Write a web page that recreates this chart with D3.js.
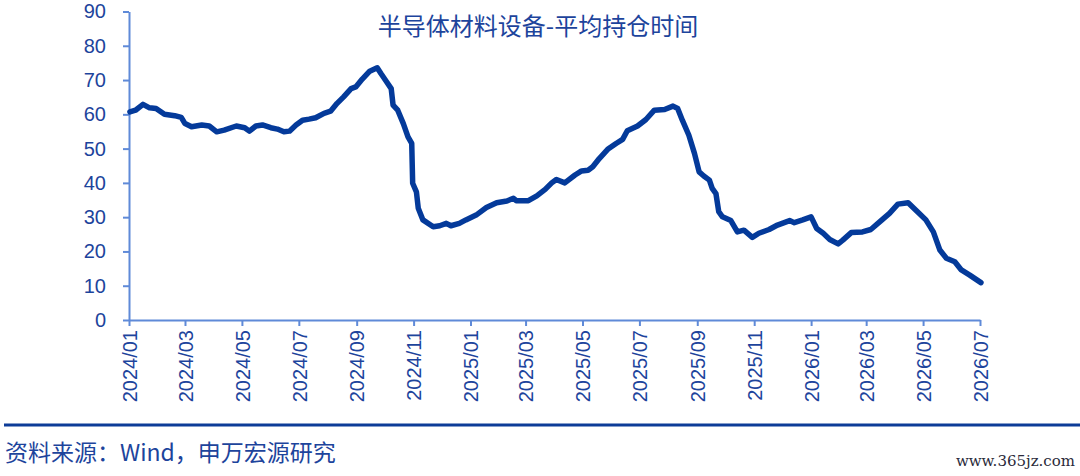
<!DOCTYPE html>
<html>
<head>
<meta charset="utf-8">
<script src="https://cdn.jsdelivr.net/npm/d3@7"></script>
<style>
  html, body { margin: 0; padding: 0; background: #fff; }
  svg { display: block; }
</style>
</head>
<body>
<svg width="1080" height="476"></svg>
<script>
const TITLE = '半导体材料设备-平均持仓时间'
const SOURCE = '资料来源：Wind，申万宏源研究'

const dates = [
  '2024-01-02', '2024-01-08', '2024-01-16', '2024-01-23', '2024-01-30', '2024-02-08', '2024-02-19', '2024-02-26',
  '2024-03-01', '2024-03-08', '2024-03-19', '2024-03-27', '2024-04-04', '2024-04-12', '2024-04-25', '2024-05-04',
  '2024-05-09', '2024-05-16', '2024-05-23', '2024-06-01', '2024-06-08', '2024-06-15', '2024-06-21', '2024-06-28',
  '2024-07-05', '2024-07-12', '2024-07-19', '2024-07-28', '2024-08-04', '2024-08-11', '2024-08-18', '2024-08-26',
  '2024-08-31', '2024-09-07', '2024-09-15', '2024-09-23', '2024-09-27', '2024-10-03', '2024-10-08', '2024-10-10',
  '2024-10-15', '2024-10-21', '2024-10-26', '2024-10-30', '2024-10-31', '2024-11-04', '2024-11-06', '2024-11-11',
  '2024-11-22', '2024-11-29', '2024-12-06', '2024-12-11', '2024-12-20', '2024-12-27', '2025-01-07', '2025-01-18',
  '2025-01-29', '2025-02-09', '2025-02-16', '2025-02-19', '2025-03-04', '2025-03-13', '2025-03-22', '2025-03-29',
  '2025-04-03', '2025-04-12', '2025-04-23', '2025-04-30', '2025-05-07', '2025-05-12', '2025-05-19', '2025-05-28',
  '2025-06-06', '2025-06-13', '2025-06-18', '2025-06-29', '2025-07-08', '2025-07-17', '2025-07-28', '2025-08-06',
  '2025-08-11', '2025-08-16', '2025-08-23', '2025-08-29', '2025-09-03', '2025-09-08', '2025-09-14', '2025-09-17',
  '2025-09-21', '2025-09-24', '2025-09-28', '2025-10-07', '2025-10-14', '2025-10-21', '2025-10-30', '2025-11-06',
  '2025-11-17', '2025-11-26', '2025-12-09', '2025-12-14', '2025-12-23', '2026-01-01', '2026-01-07', '2026-01-14',
  '2026-01-21', '2026-01-30', '2026-02-04', '2026-02-13', '2026-02-25', '2026-03-06', '2026-03-17', '2026-03-26',
  '2026-04-04', '2026-04-15', '2026-04-25', '2026-05-04', '2026-05-12', '2026-05-19', '2026-05-26', '2026-06-04',
  '2026-06-11', '2026-06-20', '2026-07-02',
]

const holdDays = [
  60.7, 61.2, 62.9, 61.9, 61.7, 60.0, 59.6, 59.1,
  57.3, 56.4, 56.9, 56.6, 54.9, 55.4, 56.6, 56.1,
  55.1, 56.6, 56.9, 56.1, 55.7, 54.9, 55.1, 56.9,
  58.3, 58.6, 59.0, 60.3, 60.9, 63.2, 65.1, 67.5,
  68.0, 70.3, 72.6, 73.6, 71.9, 69.5, 67.5, 62.7,
  61.2, 57.3, 53.4, 51.5, 39.9, 37.4, 32.6, 29.2,
  27.2, 27.5, 28.2, 27.5, 28.2, 29.2, 30.6, 32.8,
  34.2, 34.7, 35.5, 34.8, 34.8, 36.2, 38.1, 40.0,
  41.0, 40.0, 42.3, 43.5, 43.7, 44.7, 47.1, 49.8,
  51.5, 52.7, 55.2, 56.6, 58.5, 61.2, 61.4, 62.4,
  61.7, 58.3, 53.9, 48.6, 43.2, 42.0, 40.8, 38.4,
  36.9, 31.6, 30.1, 29.0, 25.7, 26.2, 24.1, 25.3,
  26.4, 27.7, 29.0, 28.4, 29.2, 30.1, 26.7, 25.3,
  23.5, 22.2, 23.3, 25.5, 25.7, 26.4, 29.0, 31.1,
  33.8, 34.2, 31.6, 29.2, 25.7, 20.4, 18.0, 17.0,
  14.6, 13.1, 10.9,
]

const xTicks = [
  '2024-01-01', '2024-03-01', '2024-05-01', '2024-07-01', '2024-09-01', '2024-11-01',
  '2025-01-01', '2025-03-01', '2025-05-01', '2025-07-01', '2025-09-01', '2025-11-01',
  '2026-01-01', '2026-03-01', '2026-05-01', '2026-07-01',
]
const yTicks = [0, 10, 20, 30, 40, 50, 60, 70, 80, 90]

const parse = d3.timeParse('%Y-%m-%d')
const fmt = d3.timeFormat('%Y/%m')
const data = dates.map((d, i) => ({ date: parse(d), value: holdDays[i] }))

const TEXT = '#1d449c'
const AXIS = '#5f8ad8'
const LINE = '#043a9a'

const svg = d3.select('svg')

const x = d3.scaleTime()
  .domain([parse(xTicks[0]), parse(xTicks[xTicks.length - 1])])
  .range([129, 980])

const y = d3.scaleLinear()
  .domain([0, 90])
  .range([320, 11.5])

// y axis
const yAxis = svg.append('g')
  .attr('transform', `translate(${x.range()[0]},0)`)
  .call(d3.axisLeft(y).tickValues(yTicks).tickSize(6).tickPadding(17).tickSizeOuter(0))
yAxis.select('.domain').attr('stroke', AXIS).attr('stroke-width', 2)
yAxis.selectAll('.tick line').attr('stroke', AXIS).attr('stroke-width', 2)
yAxis.selectAll('.tick text')
  .attr('fill', TEXT)
  .style('font', '20px "Liberation Sans", Arial, sans-serif')

// x axis
const xAxis = svg.append('g')
  .attr('transform', `translate(0,${y(0)})`)
  .call(d3.axisBottom(x).tickValues(xTicks.map(parse)).tickFormat(fmt).tickSize(6).tickSizeOuter(0))
xAxis.select('.domain').attr('stroke', AXIS).attr('stroke-width', 2)
xAxis.selectAll('.tick line').attr('stroke', AXIS).attr('stroke-width', 2)
xAxis.selectAll('.tick text')
  .attr('fill', TEXT)
  .attr('transform', 'rotate(-90)')
  .attr('text-anchor', 'end')
  .attr('x', -10)
  .attr('y', 0)
  .attr('dy', '0.36em')
  .style('font', '20px "Liberation Sans", Arial, sans-serif')

// line
const line = d3.line()
  .x(d => x(d.date))
  .y(d => y(d.value))
  .curve(d3.curveLinear)

svg.append('path')
  .datum(data)
  .attr('fill', 'none')
  .attr('stroke', LINE)
  .attr('stroke-width', 5.5)
  .attr('stroke-linejoin', 'round')
  .attr('stroke-linecap', 'round')
  .attr('d', line)

// title
svg.append('text')
  .attr('x', 538)
  .attr('y', 35)
  .attr('text-anchor', 'middle')
  .attr('fill', TEXT)
  .style('font', '24px "Noto Sans CJK SC", sans-serif')
  .text(TITLE)

// bottom rule and source
svg.append('line')
  .attr('x1', 4).attr('x2', 1080)
  .attr('y1', 425).attr('y2', 425)
  .attr('stroke', '#0d3c98')
  .attr('stroke-width', 3)

svg.append('text')
  .attr('x', 5)
  .attr('y', 461)
  .attr('fill', TEXT)
  .style('font', '23px "Noto Sans CJK SC", sans-serif')
  .text(SOURCE)

svg.append('text')
  .attr('x', 1075)
  .attr('y', 466)
  .attr('text-anchor', 'end')
  .attr('fill', '#2a2a3a')
  .style('font', '15px "DejaVu Serif", serif')
  .text('www.365jz.com')
</script>
</body>
</html>
